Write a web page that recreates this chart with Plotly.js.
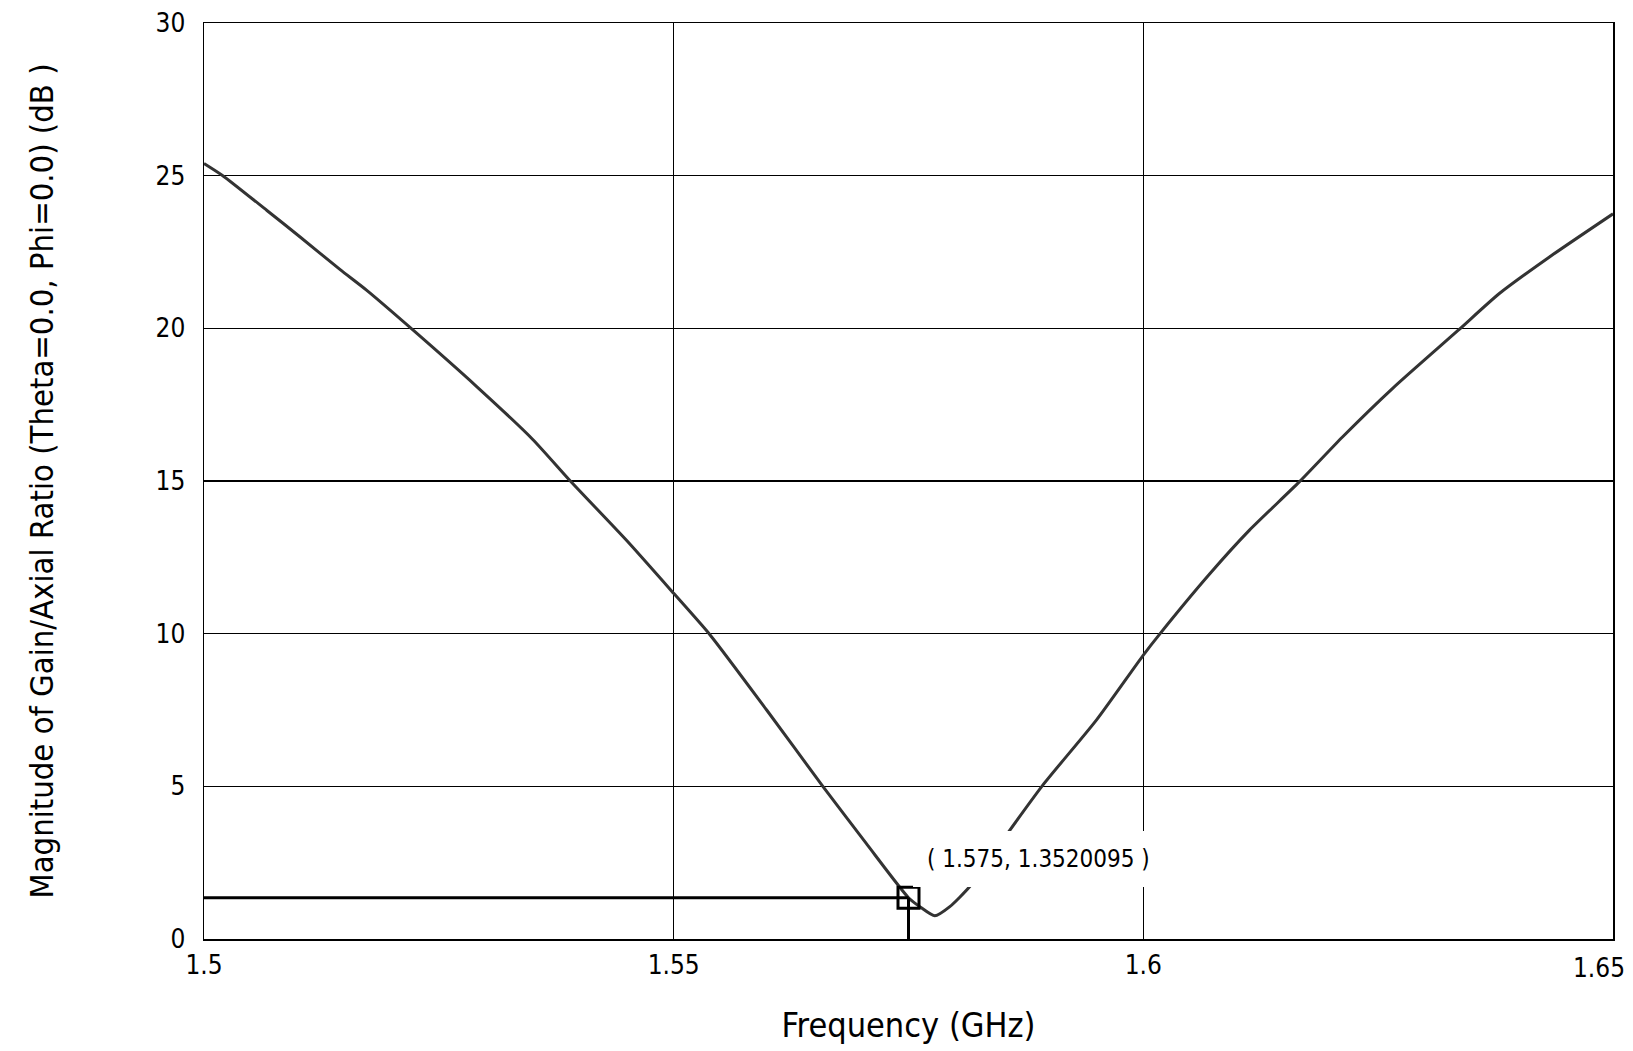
<!DOCTYPE html>
<html>
<head>
<meta charset="utf-8">
<script src="https://cdn.plot.ly/plotly-3.0.1.min.js"></script>
<style>
  html, body { margin: 0; padding: 0; background: #ffffff; }
  #chart { width: 1633px; height: 1051px; }
</style>
</head>
<body>
<div id="chart"></div>
<script>
// Frequency (GHz) and axial ratio magnitude (dB)
const freqGHz = [1.5, 1.502, 1.5067, 1.5102, 1.5145, 1.5173, 1.5223, 1.529, 1.535, 1.539,
                 1.545, 1.55, 1.5539, 1.5599, 1.5659, 1.5705, 1.575, 1.5762, 1.5778, 1.5794,
                 1.5815, 1.5854, 1.5893, 1.595, 1.6, 1.6017, 1.6071, 1.6113, 1.6166, 1.6212,
                 1.6266, 1.6335, 1.6379, 1.6432, 1.65];
const axialRatioDb = [25.4, 25.0, 23.86, 23.0, 21.92, 21.25, 19.93, 18.1, 16.36, 15.0,
                      13.05, 11.32, 9.95, 7.5, 4.99, 3.13, 1.352, 1.06, 0.76, 1.06,
                      1.71, 3.4, 5.04, 7.17, 9.3, 9.97, 11.97, 13.39, 14.97, 16.44,
                      18.05, 19.93, 21.14, 22.33, 23.75];

// Marker point
const markerX = [1.575];
const markerY = [1.3520095];
const markerLabel = "( 1.575, 1.3520095 )";

// Axes
const xRange = [1.5, 1.65];
const yRange = [0, 30];
const xTicks = [1.5, 1.55, 1.6];
const xTickText = ["1.5", "1.55", "1.6"];
const xEndTick = [1.65];
const xEndTickText = ["1.65"];
const yTicks = [0, 5, 10, 15, 20, 25, 30];
const yTickText = ["0", "5", "10", "15", "20", "25", "30"];

const FONT = '"DejaVu Sans Condensed", "DejaVu Sans", sans-serif';

const traces = [
  {
    x: freqGHz, y: axialRatioDb, type: 'scatter', mode: 'lines',
    line: { color: '#333333', width: 3, shape: 'spline', smoothing: 0.6 },
    hoverinfo: 'x+y', showlegend: false
  },
  {
    // horizontal marker guide
    x: [xRange[0], markerX[0]], y: [markerY[0], markerY[0]], type: 'scatter', mode: 'lines',
    line: { color: '#000000', width: 3 }, showlegend: false, hoverinfo: 'skip'
  },
  {
    // vertical marker guide (drawn on the overlaying x axis, same range)
    x: [markerX[0], markerX[0]], y: [yRange[0], markerY[0]], type: 'scatter', mode: 'lines',
    xaxis: 'x2', yaxis: 'y',
    line: { color: '#000000', width: 3 }, showlegend: false, hoverinfo: 'skip'
  },
  {
    x: markerX, y: markerY, type: 'scatter', mode: 'markers',
    marker: { symbol: 'square-open', size: 21, color: '#000000', line: { width: 3, color: '#000000' } },
    showlegend: false, hoverinfo: 'skip'
  }
];

const tickFont = { family: FONT, size: 26, color: '#000000' };

const layout = {
  width: 1633, height: 1051,
  paper_bgcolor: '#ffffff', plot_bgcolor: '#ffffff',
  margin: { l: 204, r: 20, t: 23, b: 112, pad: 0 },
  font: { family: FONT, color: '#000000', size: 26 },
  showlegend: false,
  xaxis: {
    range: xRange, tickmode: 'array', tickvals: xTicks, ticktext: xTickText,
    showgrid: true, gridcolor: '#000000', gridwidth: 1.5,
    showline: true, linecolor: '#000000', linewidth: 1.5, mirror: true,
    zeroline: false, ticks: '', ticklabelstandoff: 2,
    tickfont: tickFont,
    title: { text: 'Frequency (GHz)', font: { family: FONT, size: 34, color: '#000000' }, standoff: 34 },
    automargin: false
  },
  xaxis2: {
    range: xRange, overlaying: 'x', anchor: 'y', side: 'bottom',
    tickmode: 'array', tickvals: xEndTick, ticktext: xEndTickText,
    showgrid: true, gridcolor: '#000000', gridwidth: 1.5,
    showline: false, zeroline: false, ticks: '', ticklabelstandoff: 11,
    ticklabelshift: -14, ticklabeloverflow: 'allow',
    tickfont: tickFont, automargin: false
  },
  yaxis: {
    range: yRange, tickmode: 'array', tickvals: yTicks, ticktext: yTickText,
    showgrid: true, gridcolor: '#000000', gridwidth: 1.5,
    showline: true, linecolor: '#000000', linewidth: 1.5, mirror: true,
    zeroline: false, ticks: '', ticklabelstandoff: 12,
    tickfont: tickFont,
    title: { text: 'Magnitude of Gain/Axial Ratio (Theta=0.0, Phi=0.0) (dB )', font: { family: FONT, size: 32.5, color: '#000000' }, standoff: 92 },
    automargin: false
  },
  annotations: [
    {
      x: markerX[0], y: markerY[0], xref: 'x', yref: 'y',
      text: markerLabel, showarrow: false,
      xanchor: 'left', yanchor: 'bottom', xshift: 4, yshift: 11,
      bgcolor: '#ffffff', borderpad: 14, borderwidth: 0,
      font: { family: FONT, size: 24, color: '#000000' }
    }
  ]
};

Plotly.newPlot('chart', traces, layout, { displayModeBar: false, staticPlot: true });
</script>
</body>
</html>
